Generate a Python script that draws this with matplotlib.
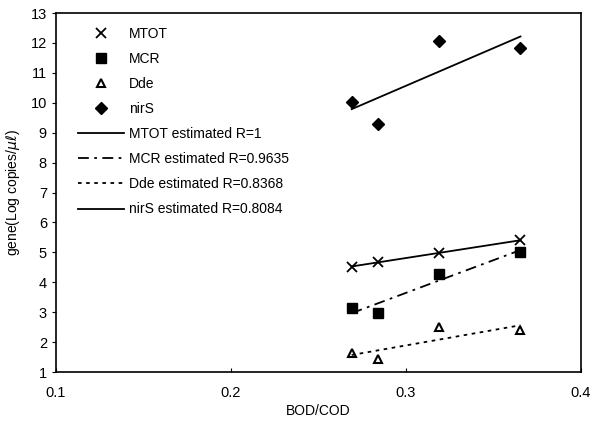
import numpy as np
import matplotlib
matplotlib.use("Agg")
import matplotlib.pyplot as plt

plt.rcParams['font.family'] = ['Liberation Sans', 'DejaVu Sans']

bod_cod = [0.269, 0.284, 0.319, 0.3655]
mtot = [4.52, 4.67, 4.99, 5.40]
mcr = [3.15, 2.96, 4.27, 5.02]
dde = [1.63, 1.42, 2.49, 2.40]
nirs = [10.04, 9.29, 12.05, 11.83]

fit_labels = ["MTOT estimated R=1", "MCR estimated R=0.9635",
              "Dde estimated R=0.8368", "nirS estimated R=0.8084"]


def fit(x, y):
    k, b = np.polyfit(x, y, 1)
    xs = np.array([min(x), max(x)])
    return xs, k * xs + b


def main():
    fig = plt.figure(figsize=(5.91, 4.28), dpi=100)
    ax = fig.add_axes([0.0948, 0.1308, 0.888, 0.8388])

    h1, = ax.plot(bod_cod, mtot, 'x', color='black', ms=7, mew=1.3, label="MTOT")
    h2, = ax.plot(bod_cod, mcr, 's', color='black', ms=7, label="MCR")
    h3, = ax.plot(bod_cod, dde, '^', mfc='white', mec='black', ms=6, mew=1.5, label="Dde")
    h4, = ax.plot(bod_cod, nirs, 'D', color='black', ms=6, label="nirS")

    styles = ['-', (0, (6, 3, 1.5, 3)), (0, (2, 2.5)), '-']
    handles = [h1, h2, h3, h4]
    for data, ls, lab in zip([mtot, mcr, dde, nirs], styles, fit_labels):
        xs, ys = fit(bod_cod, data)
        h, = ax.plot(xs, ys, color='black', lw=1.3, linestyle=ls, label=lab)
        handles.append(h)

    ax.set_xlim(0.1, 0.4)
    ax.set_ylim(1, 13)
    ax.set_xticks([0.1, 0.2, 0.3, 0.4])
    ax.set_yticks(range(1, 14))
    ax.tick_params(axis='x', direction='in', length=3, labelsize=10.5, pad=10)
    ax.tick_params(axis='y', direction='out', length=3, labelsize=10.5)
    for s in ax.spines.values():
        s.set_linewidth(1.2)

    ax.set_xlabel("BOD/COD", fontsize=10, labelpad=3)
    ax.set_ylabel(r"gene(Log copies/$\mu\ell$)", fontsize=10, labelpad=6)

    ax.legend(handles=handles, loc='upper left', bbox_to_anchor=(0.018, 0.997),
              frameon=False, fontsize=10, handlelength=3.3, handletextpad=0.35,
              labelspacing=0.8)

    fig.savefig("out.png", dpi=100)


if __name__ == "__main__":
    main()
